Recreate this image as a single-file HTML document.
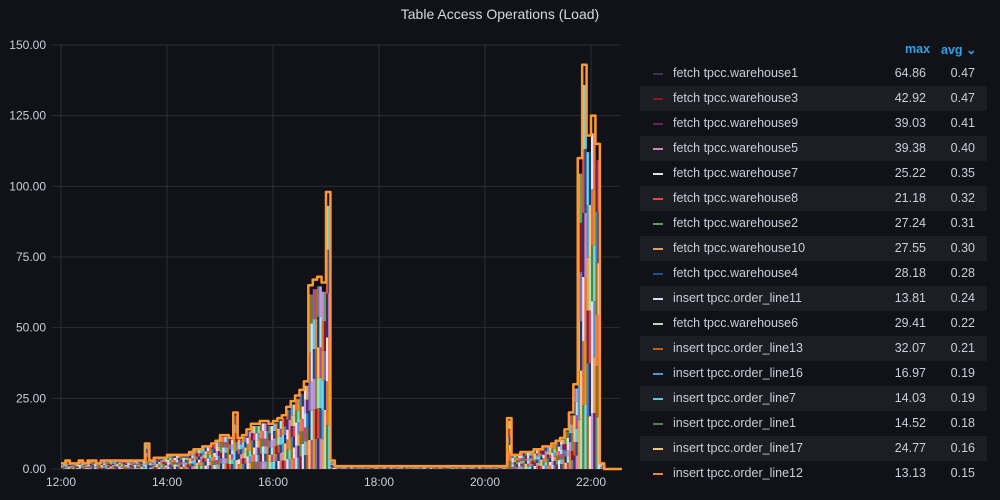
<!DOCTYPE html>
<html><head><meta charset="utf-8"><style>
body{margin:0;background:#111217;width:1000px;height:500px;overflow:hidden;font-family:"Liberation Sans",sans-serif;color:#ccccdc}
.title{position:absolute;top:6px;left:0;width:1000px;text-align:center;font-size:14px;color:#d8d9e0}
.lg{position:absolute;left:640px;width:347px;height:25px;font-size:12.5px;line-height:25px}
.lg .sw{position:absolute;left:13px;top:12px;width:10px;height:2px}
.lg .nm{position:absolute;left:33px}
.lg .mx{position:absolute;right:61px}
.lg .av{position:absolute;right:12px}
.hd{position:absolute;top:42px;font-size:12.5px;color:#33a2e5;font-weight:bold}
</style></head><body>
<div class="title">Table Access Operations (Load)</div>
<svg id="chart" width="630" height="500" style="position:absolute;left:0;top:0"></svg>
<div class="hd" style="left:905px">max</div>
<div class="hd" style="left:941px">avg ⌄</div>
<div id="legend"></div>
<script>
const startMin=0; // minutes after 12:00, 5-minute steps
const envelope=[2,3,2,2,3,2,3,3,2,3,3,3, 3,3,3,3,3,3,3,9,3,4,4,4, 5,5,5,5,5,6,7,7,8,8,9,10, 12,12,11,20,11,12,14,16,16,17,17,16, 17,18,19,22,24,26,28,31,65,67,68,66, 98,3,1,1,1,1,1,1,1,1,1,1, 1,1,1,1,1,1,1,1,1,1,1,1, 1,1,1,1,1,1,1,1,1,1,1,1, 1,1,1,1,1,18,5,5,6,6,6,7, 7,8,8,9,10,11,14,20,30,110,143,118, 125,115,2,0,0,0,0];
const yTicks=[0,25,50,75,100,125,150];
const xTicks=["12:00","14:00","16:00","18:00","20:00","22:00"];
const seriesNames=["fetch tpcc.warehouse1","fetch tpcc.warehouse3","fetch tpcc.warehouse9","fetch tpcc.warehouse5","fetch tpcc.warehouse7","fetch tpcc.warehouse8","fetch tpcc.warehouse2","fetch tpcc.warehouse10","fetch tpcc.warehouse4","insert tpcc.order_line11","fetch tpcc.warehouse6","insert tpcc.order_line13","insert tpcc.order_line16","insert tpcc.order_line7","insert tpcc.order_line1","insert tpcc.order_line17","insert tpcc.order_line12"];
const seriesMax=[64.86,42.92,39.03,39.38,25.22,21.18,27.24,27.55,28.18,13.81,29.41,32.07,16.97,14.03,14.52,24.77,13.13];
const seriesAvg=[0.47,0.47,0.41,0.40,0.35,0.32,0.31,0.30,0.28,0.24,0.22,0.21,0.19,0.19,0.18,0.16,0.15];
const colors=["#3d2f5b","#8a1b1b","#6d1f62","#d683ce","#e2e2ee","#e24d42","#629e51","#e5a050","#1f4f8e","#dedaf7","#b7dbab","#c15c17","#5195ce","#65c5db","#508642","#f2c96d","#ef843c"];
const extraColors=["#70dbed","#ba43a9","#ea6460","#0a437c","#967302","#cca300","#badff4","#f9d9f9","#806eb7","#447ebc","#e0752d","#aea2e0"];
const SVGNS="http://www.w3.org/2000/svg";
const svg=document.getElementById('chart');
const X0=61,PXH=53,Y0=469,PXU=(469-45)/150;
const xs=m=>X0+m/60*PXH, ys=v=>Y0-v*PXU;
function mk(t,a){const e=document.createElementNS(SVGNS,t);for(const k in a)e.setAttribute(k,a[k]);svg.appendChild(e);return e;}
yTicks.forEach(v=>{
 const g=mk('line',{x1:52,x2:620,y1:ys(v),y2:ys(v),stroke:'#2c2d33','stroke-width':1});
 
 
 const t=mk('text',{x:46,y:ys(v)+4,'text-anchor':'end','font-size':12,fill:'#ccccdc'});t.textContent=v.toFixed(2);
 
 
});
xTicks.forEach((s,i)=>{
 const x=xs(i*120);
 const g=mk('line',{x1:x,x2:x,y1:45,y2:469,stroke:'#2c2d33','stroke-width':1});
 
 
 const t=mk('text',{x:x,y:486,'text-anchor':'middle','font-size':12,fill:'#ccccdc'});t.textContent=s;
 
 
});
const allC=colors.concat(extraColors);
const step=5,w=step/60*PXH;
envelope.forEach((v,i)=>{
 const x=xs(startMin+i*step);
 const n=6;let acc=0;
 for(let k=0;k<n;k++){
  for(let h=0;h<2;h++){
   const seg=v*0.95/n;
   const c=allC[(i*7+k*5+h*3)%allC.length];
   const r=mk('rect',{x:x+h*w/2,y:ys(acc+seg),width:w/2+0.3,height:Math.max(0,seg*PXU),fill:c});
   
   
  }
  acc+=v*0.95/n;
 }
});
let d='';
envelope.forEach((v,i)=>{const x=xs(startMin+i*step);d+=(i?'L':'M')+x+','+ys(v)+'L'+(x+w)+','+ys(v);});
const p=mk('path',{d:d,fill:'none',stroke:'#ff9830','stroke-width':2.5,'stroke-linejoin':'round'});


const lg=document.getElementById('legend');
seriesNames.forEach((n,i)=>{
 const r=document.createElement('div');r.className='lg';r.style.top=(61+i*25)+'px';
 if(i%2==1)r.style.background='#1d1e23';
 r.innerHTML='<span class="sw" style="background:'+colors[i]+'"></span><span class="nm">'+n+'</span><span class="mx">'+seriesMax[i].toFixed(2)+'</span><span class="av">'+seriesAvg[i].toFixed(2)+'</span>';
 
 
 lg.appendChild(r);
});
</script>
</body></html>
